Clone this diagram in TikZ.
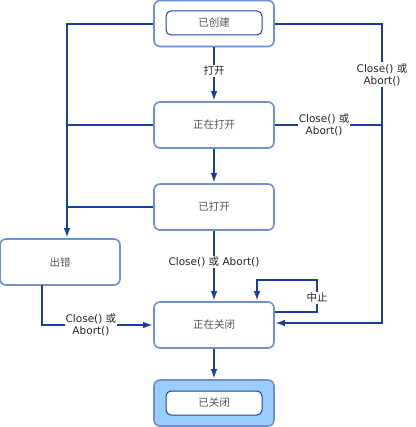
\documentclass[tikz,border=0pt]{standalone}
\usepackage{fontspec}
\setmainfont{DejaVu Sans}
\newfontfamily\cjk{Noto Sans CJK SC}
\usetikzlibrary{arrows.meta,positioning}
\definecolor{wireblue}{HTML}{1A3E9E}
\definecolor{rim}{HTML}{6F8FCF}
\definecolor{innerrim}{HTML}{1F3F99}
\definecolor{donefill}{HTML}{99CCFF}
\definecolor{boxtext}{HTML}{555555}
\newcommand{\zh}[1]{{\cjk #1}}

\tikzset{
  state/.style={draw=rim, line width=1.6pt, rounded corners=6pt, fill=white,
    minimum width=120pt, minimum height=46pt, inner sep=0pt,
    font=\fontsize{10.5}{12}\cjk, text=boxtext},
  inner/.style={draw=innerrim, line width=1pt, rounded corners=5pt, fill=white,
    minimum width=96pt, minimum height=24pt, inner sep=0pt,
    font=\fontsize{10.5}{12}\cjk, text=boxtext},
  trans/.style={fill=white, inner sep=1pt, align=center, text=black!85,
    font=\fontsize{10.5}{12.5}\selectfont},
  link/.style={draw=wireblue, line width=2pt}
}

\begin{document}
\begin{tikzpicture}[x=1pt, y=-1pt, >={Latex[length=10pt,width=6.5pt]}]
        \useasboundingbox (0,0) rectangle (415,427);

        % States (middle column)
        \node[state] (created) at (214,23.5) {};
        \node[inner] (createdin) at (214,23) {已创建};
        \node[state] (opening) at (214,125) {正在打开};
        \node[state] (opened) at (214,207) {已打开};
        \node[state] (closing) at (214,325) {正在关闭};
        \node[state, fill=donefill] (closed) at (214,403) {};
        \node[inner] (closedin) at (214,403) {已关闭};

        % Faulted state (left)
        \node[state] (faulted) at (60,262) {出错};

        \coordinate (lefttop) at (67,24);
        \coordinate (righttop) at (382,24);
        \coordinate (faultout) at (42,285);

        % Main chain
        \draw[link,->] (created) -- node[trans, pos=0.44] {\zh{打开}} (opening);
        \draw[link,->] (opening) -- (opened);
        \draw[link,->] (opened) -- node[trans, pos=0.44] {Close() \zh{或} Abort()} (closing);
        \draw[link,->] (closing) -- (closed);

        % Faults (left bus)
        \draw[link,->] (created.west |- lefttop) -- (lefttop) -- (lefttop |- faulted.north);
        \draw[link] (opening.west) -- (opening.west -| lefttop);
        \draw[link] (opened.west) -- (opened.west -| lefttop);
        \draw[link,->] (faultout) |- node[trans, pos=0.72] {Close() \zh{或}\\Abort()} (closing.west);

        % Close or abort (right bus)
        \draw[link,->] (created.east |- righttop) -- (righttop)
            -- node[trans, pos=0.17] {Close() \zh{或}\\Abort()} (righttop |- 0,323)
            -- ([yshift=2pt]closing.east);
        \draw[link] (opening.east) -- node[trans, pos=0.46] {Close() \zh{或}\\Abort()} (opening.east -| righttop);

        % Abort loop
        \draw[link,->] ([yshift=13pt]closing.east) -| node[trans, pos=0.72] {\zh{中止}} (317,280)
            -| ([xshift=43pt]closing.north);

    \end{tikzpicture}
\end{document}
